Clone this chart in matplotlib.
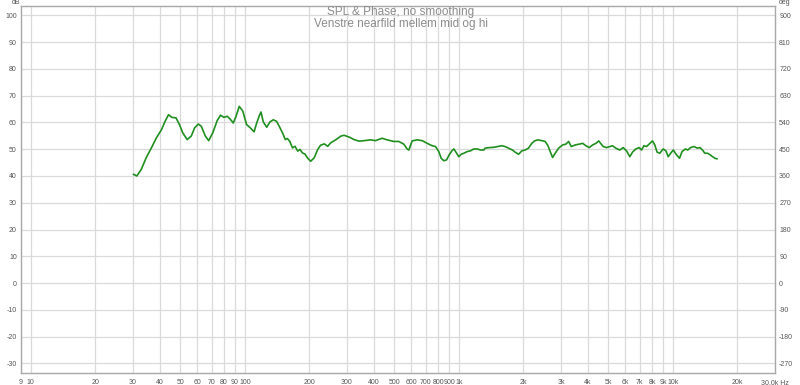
import matplotlib
matplotlib.use("Agg")
import matplotlib.pyplot as plt
import numpy as np

# ---- data ----
freq_hz = [30.2, 31.3, 32.8, 34.6, 36.6, 38.6, 40.8, 42.4, 44.0, 45.6, 47.7, 49.5,
           51.3, 53.8, 56.2, 58.3, 60.6, 62.6, 65.4, 67.8, 70.8, 74.3, 77.0, 79.8,
           82.7, 85.1, 88.3, 91.0, 94.2, 97.9, 101.9, 106.0, 110.5, 113.0, 116.8,
           119.0, 122.0, 126.6, 131.0, 136.0, 140.8, 144.7, 150.0, 154.6, 158.0,
           162.0, 167.0, 171.6, 176.6, 181.0, 186.0, 191.0, 196.0, 203.0, 211.0,
           219.0, 226.0, 235.0, 244.0, 252.0, 267.0, 281.0, 291.0, 308.0, 324.0,
           342.0, 361.0, 387.0, 408.0, 438.0, 462.0, 497.0, 524.0, 553.0, 573.0,
           584.0, 605.0, 639.0, 674.0, 711.0, 750.0, 778.0, 806.0, 827.0, 851.0,
           876.0, 901.0, 928.0, 948.0, 976.0, 1000.0, 1025.0, 1055.0, 1093.0,
           1134.0, 1175.0, 1218.0, 1263.0, 1308.0, 1327.0, 1385.0, 1453.0, 1521.0,
           1588.0, 1645.0, 1707.0, 1781.0, 1832.0, 1901.0, 1970.0, 2040.0, 2115.0,
           2192.0, 2259.0, 2338.0, 2444.0, 2531.0, 2608.0, 2672.0, 2742.0, 2819.0,
           2926.0, 3055.0, 3164.0, 3257.0, 3351.0, 3498.0, 3654.0, 3787.0, 3924.0,
           4068.0, 4217.0, 4371.0, 4500.0, 4627.0, 4726.0, 4900.0, 5075.0, 5221.0,
           5413.0, 5652.0, 5857.0, 6072.0, 6293.0, 6476.0, 6713.0, 6957.0, 7139.0,
           7318.0, 7530.0, 7805.0, 8031.0, 8232.0, 8437.0, 8688.0, 9006.0, 9275.0,
           9510.0, 9765.0, 10050.0, 10355.0, 10740.0, 11030.0, 11440.0, 11740.0,
           12090.0, 12540.0, 13010.0, 13390.0, 13750.0, 14100.0, 14520.0, 14940.0,
           15330.0, 15730.0, 16070.0]
spl_db = [40.6, 40.0, 42.4, 46.8, 50.5, 54.2, 57.3, 60.4, 62.9, 61.9, 61.7, 59.2,
          56.1, 53.6, 54.9, 58.0, 59.4, 58.6, 54.9, 53.2, 56.1, 60.7, 62.7, 61.9,
          62.3, 61.4, 59.8, 62.3, 66.0, 64.2, 59.2, 58.0, 56.5, 59.2, 62.5,
          63.9, 60.2, 58.2, 60.2, 61.0, 60.4, 58.6, 56.1, 53.6, 54.0,
          53.0, 50.5, 51.1, 49.3, 49.9, 48.6, 48.2, 46.8, 45.5, 46.8,
          49.9, 51.5, 52.0, 51.1, 52.4, 53.6, 54.9, 55.2, 54.5, 53.6,
          53.0, 53.2, 53.5, 53.2, 54.1, 53.5, 52.9, 52.9, 51.9, 50.1,
          49.7, 53.1, 53.5, 53.2, 52.2, 51.3, 51.0, 49.1, 46.6, 45.7,
          46.0, 47.9, 49.4, 50.1, 48.5, 47.2, 48.1, 48.5, 49.1,
          49.4, 50.1, 50.1, 49.7, 49.7, 50.4, 50.6, 50.7, 51.0,
          51.3, 51.0, 50.4, 49.7, 48.9, 48.1, 49.4, 49.7, 50.4,
          52.2, 53.1, 53.5, 53.2, 52.9, 51.3, 49.1, 46.9, 48.5,
          50.4, 51.6, 51.9, 52.9, 51.0, 51.6, 51.9, 52.2, 51.3,
          50.6, 51.6, 52.2, 53.1, 51.9, 51.0, 50.6, 51.0, 51.3,
          50.4, 49.7, 50.6, 49.4, 47.2, 48.9, 50.1, 50.6, 49.7,
          51.3, 51.0, 52.2, 53.1, 51.6, 48.9, 48.5, 50.1, 49.4,
          47.2, 48.5, 49.7, 48.1, 46.6, 49.1, 50.1, 49.7,
          50.6, 51.0, 50.4, 50.6, 49.7, 48.5, 48.5, 47.9,
          47.2, 46.6, 46.4]

x_ticks = [9, 10, 20, 30, 40, 50, 60, 70, 80, 90, 100, 200, 300, 400, 500, 600,
           700, 800, 900, 1000, 2000, 3000, 4000, 5000, 6000, 7000, 8000, 9000,
           10000, 20000, 30000]
x_tick_labels = ["9", "10", "20", "30", "40", "50", "60", "70", "80", "90", "100",
                 "200", "300", "400", "500", "600", "700", "800", "900", "1k",
                 "2k", "3k", "4k", "5k", "6k", "7k", "8k", "9k", "10k", "20k",
                 "30,0k Hz"]
y_ticks = list(range(-30, 101, 10))
deg_ticks = list(range(-270, 901, 90))

title_lines = ["SPL & Phase, no smoothing", "Venstre nearfild mellem mid og hi"]

# ---- figure ----
plt.rcParams["font.family"] = ["Liberation Sans", "DejaVu Sans"]
W, H = 800, 385
fig = plt.figure(figsize=(W / 100, H / 100), dpi=100)
fig.patch.set_facecolor("white")
left, right, top, bottom = 21, 775, 6, 373
ax = fig.add_axes([left / W, 1 - bottom / H, (right - left) / W, (bottom - top) / H])

ylo, yhi = -33.6, 103.5
ax.set_xscale("log")
ax.set_xlim(9, 30000)
ax.set_ylim(ylo, yhi)

grid_c = "#dadada"
for xv in x_ticks[1:-1]:
    ax.axvline(xv, color=grid_c, lw=0.9, zorder=1)
for yv in y_ticks:
    ax.axhline(yv, color=grid_c, lw=0.9, zorder=1)

ax.plot(freq_hz, spl_db, color="#1f8f1f", lw=1.2, zorder=3)

lab_c = "#555555"
fs = 5.0
ax.set_xticks(x_ticks)
ax.set_xticklabels(x_tick_labels)
ax.xaxis.set_minor_locator(matplotlib.ticker.NullLocator())
ax.set_yticks(y_ticks)
ax.set_yticklabels([str(v) for v in y_ticks])
ax.tick_params(axis="both", length=0, labelsize=fs, colors=lab_c, pad=3)
ax.tick_params(axis="x", pad=4)

for s in ax.spines.values():
    s.set_color("#a8a8a8")
    s.set_linewidth(1.0)

ax2 = ax.twinx()
ax2.set_ylim(ylo * 9, yhi * 9)
ax2.set_yticks(deg_ticks)
ax2.set_yticklabels([str(v) for v in deg_ticks])
ax2.tick_params(axis="y", length=0, labelsize=fs, colors=lab_c, pad=3)
for s in ax2.spines.values():
    s.set_visible(False)

fig.text(12 / W, 1 - 3 / H, "dB", fontsize=fs, color=lab_c, ha="left", va="center")
fig.text(779 / W, 1 - 3 / H, "deg", fontsize=fs, color=lab_c, ha="left", va="center")
fig.text(401 / W, 1 - 12 / H, title_lines[0], fontsize=8.5, color="#8c8c8c",
         ha="center", va="center")
fig.text(401 / W, 1 - 24 / H, title_lines[1], fontsize=8.5, color="#8c8c8c",
         ha="center", va="center")

fig.savefig("out.png", dpi=100, facecolor="white")
